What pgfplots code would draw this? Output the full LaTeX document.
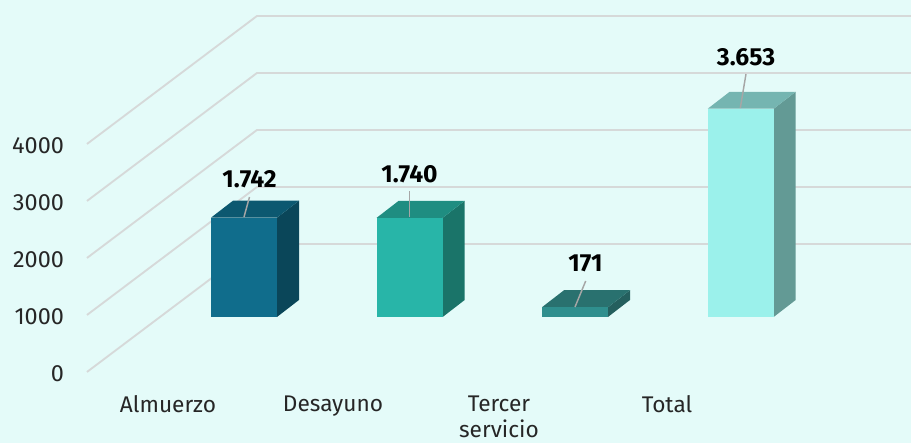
\documentclass[border=0pt]{standalone}
\usepackage{fontspec}
\setmainfont{Fira Sans}
\usepackage{pgfplots}
\pgfplotsset{compat=1.18}
\definecolor{bgc}{HTML}{E4FBF9}
\definecolor{gridc}{HTML}{D6D9D9}
\definecolor{leadc}{HTML}{A6A6A6}
\definecolor{txt}{HTML}{262626}
% front, side, top of each bar
\definecolor{aF}{HTML}{106D8C}\definecolor{aS}{HTML}{0A4659}\definecolor{aT}{HTML}{0C5870}
\definecolor{dF}{HTML}{28B5A8}\definecolor{dS}{HTML}{1A7469}\definecolor{dT}{HTML}{1F8D81}
\definecolor{tF}{HTML}{2F8F8E}\definecolor{tS}{HTML}{245F5E}\definecolor{tT}{HTML}{29716F}
\definecolor{oF}{HTML}{9BF1EB}\definecolor{oS}{HTML}{639A95}\definecolor{oT}{HTML}{75B5B1}
% #1 left edge, #2 value, #3 front, #4 side, #5 top
\newcommand{\barbox}[5]{%
  \pgfmathsetmacro{\xa}{#1}\pgfmathsetmacro{\xb}{#1+66}\pgfmathsetmacro{\xc}{#1+88}\pgfmathsetmacro{\xd}{#1+22}%
  \pgfmathsetmacro{\ya}{965}\pgfmathsetmacro{\yb}{965+#2}\pgfmathsetmacro{\yc}{965+#2+298}\pgfmathsetmacro{\yd}{965+298}%
  \edef\tmp{\noexpand\addplot[fill=#4,draw=none,forget plot] coordinates {(\xb,\ya) (\xc,\yd) (\xc,\yc) (\xb,\yb)} -- cycle;
    \noexpand\addplot[fill=#5,draw=none,forget plot] coordinates {(\xa,\yb) (\xb,\yb) (\xc,\yc) (\xd,\yc)} -- cycle;
    \noexpand\addplot[fill=#3,draw=none,forget plot] coordinates {(\xa,\ya) (\xb,\ya) (\xb,\yb) (\xa,\yb)} -- cycle;}%
  \tmp}
\begin{document}
\begin{tikzpicture}
\begin{axis}[
  scale only axis, width=683.25pt, height=332.25pt,
  xmin=0, xmax=911, ymin=-1246, ymax=6526,
  axis background/.style={fill=bgc},
  axis line style={draw=none},
  major tick length=0pt, tick style={draw=none},
  xtick={168,333,499,667},
  xticklabels={Almuerzo,Desayuno,{Tercer\\[-1.5pt]servicio},Total},
  ytick={0,1000,2000,3000,4000},
  scaled y ticks=false,
  /pgf/number format/1000 sep={},
  /pgf/number format/assume math mode=true,
  every tick label/.append style={overlay,text=txt},
  xticklabel style={align=center,anchor=north,yshift=39pt,font=\fontsize{17}{21.5}\selectfont},
  yticklabel style={anchor=east,xshift=51.5pt,yshift=-1.5pt,font=\fontsize{17.6}{20}\selectfont},
]
% floor and wall grid
\addplot[gridc,line width=1.4pt,forget plot] coordinates {(87,0) (257,2246) (911,2246)};
\addplot[gridc,line width=1.4pt,forget plot] coordinates {(87,1000) (257,3246) (911,3246)};
\addplot[gridc,line width=1.4pt,forget plot] coordinates {(87,2000) (257,4246) (911,4246)};
\addplot[gridc,line width=1.4pt,forget plot] coordinates {(87,3000) (257,5246) (911,5246)};
\addplot[gridc,line width=1.4pt,forget plot] coordinates {(87,4000) (257,6246) (911,6246)};
% bars
\barbox{211}{1742}{aF}{aS}{aT}
\barbox{376.7}{1740}{dF}{dS}{dT}
\barbox{542}{171}{tF}{tS}{tT}
\barbox{707.7}{3653}{oF}{oS}{oT}
% leader lines
\addplot[leadc,line width=1.1pt,forget plot] coordinates {(244,2719) (249.5,3070)};
\addplot[leadc,line width=1.1pt,forget plot] coordinates {(409.7,2719) (409.7,3175)};
\addplot[leadc,line width=1.1pt,forget plot] coordinates {(575,1140) (585.7,1596)};
\addplot[leadc,line width=1.1pt,forget plot] coordinates {(740.3,4632) (746,5228)};
% value labels
\addplot[draw=none,mark=none,forget plot,nodes near coords,point meta=explicit symbolic,
  every node near coord/.style={anchor=center,text=black,font=\fontsize{18.5}{20}\selectfont\bfseries}]
  coordinates {(249.5,3386)[1.742] (409.5,3474)[1.740] (585.5,1912)[171] (746,5526)[3.653]};
\end{axis}
\end{tikzpicture}
\end{document}
